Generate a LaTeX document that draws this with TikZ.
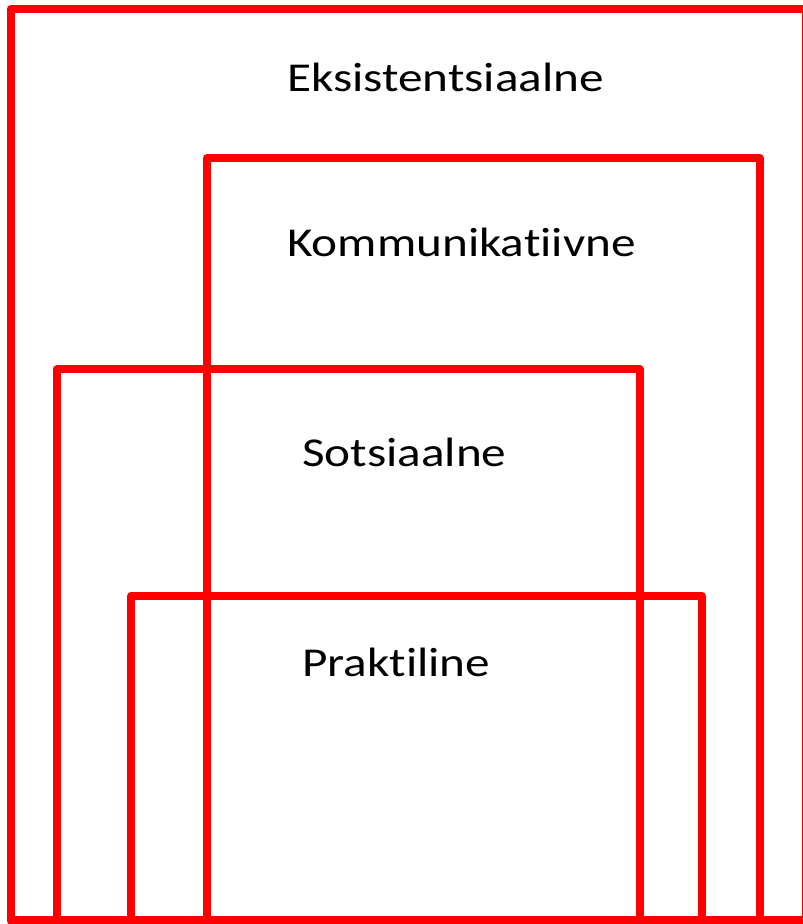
\documentclass[tikz,border=0pt]{standalone}
\usepackage{fontspec}
\newfontfamily\lblfont[FakeStretch=1.2,Ligatures=NoCommon]{Carlito}
\begin{document}
\begin{tikzpicture}[x=1pt,y=1pt,
  box/.style={draw=red, line width=8pt, line join=round},
  lbl/.style={anchor=base west, inner sep=0pt, font=\lblfont\fontsize{41}{49}\selectfont}]
\useasboundingbox (0,0) rectangle (803,924);
% rectangles (image y measured from top -> 924 - y)
\draw[box] (10.5,3.5) rectangle (806,915);
\draw[box] (206.5,3.5) rectangle (760,765.5);
\draw[box] (56.5,3.5) rectangle (640,554.5);
\draw[box] (131,3.5) rectangle (702,328);
% labels
\node[lbl] (eks) at (287,832) {Eksistentsiaalne};
\node[lbl] (kom) at (287,667) {Kommunikatiivne};
\node[lbl] (sot) at (302,457) {Sotsiaalne};
\node[lbl] (pra) at (302,247) {Praktiline};
\end{tikzpicture}
\end{document}
